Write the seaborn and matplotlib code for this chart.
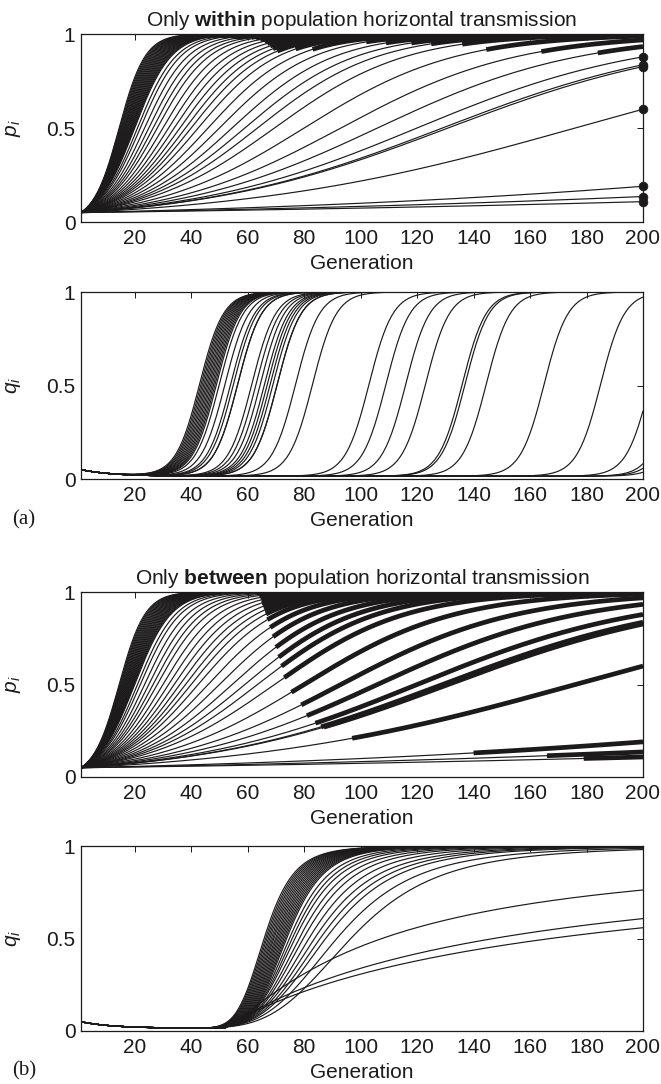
import numpy as np
import pandas as pd
import matplotlib
matplotlib.use("Agg")
import matplotlib.pyplot as plt
import seaborn as sns

nan = np.nan

GENERATIONS = np.arange(1, 200.01, 0.5)

# p_i runs: generation at which each trajectory passes 0.5 (same runs in (a) and (b))
P_HALF = [14.5, 14.75, 15, 15.25, 15.5, 15.75, 16, 16.25, 16.5, 16.75, 17, 17.25,
          17.5, 17.75, 18, 18.25, 18.5, 18.75, 19, 19.25, 19.5, 19.75, 20,
          21, 22, 23.5, 25, 26.5, 28, 30, 32, 34, 36, 38, 40, 42.5, 46, 50,
          54.5, 59, 63.5, 69.5, 80, 93, 106, 120, 129, 131, 176, 393, 538, 702]
# generation where the run is drawn bold; nan = never (dot at generation 200)
P_BOLD_A = [40, 40.5, 41, 41.5, 42, 42.5, 43, 43.5, 44, 44.5, 45, 45.5,
            46, 46.5, 47, 47.5, 48, 48.5, 49, 49.5, 50, 50.5, 51,
            52, 54, 55, 56.5, 61.5, 63, 64.5, 66, 67, 68, 69, 70.5, 77, 83, 102,
            109, 118, 125, 136, 144.5, 164, 184, nan, nan, nan, nan, nan, nan, nan]
P_BOLD_B = [64, 64, 64, 64, 64, 64, 64, 64, 64, 64, 64, 64,
            64, 64, 64, 64, 64, 64, 64, 64, 64, 64, 64,
            64, 64, 64, 64, 64, 64.5, 64.5, 65, 65, 65.5, 66, 66.5, 67, 68, 69,
            70, 71, 72, 73, 75.5, 79, 81, 84, 86, 87, 97, 140, 166, 179]

# q_i in (a): generation at which each run passes 0.5
QA_HALF = [43, 43.5, 44, 44.5, 45, 45.5, 46, 46.5, 47, 47.5, 48, 48.5, 49, 50,
           52, 54, 55, 56.5, 56.5, 61.5, 63, 64.5, 66, 67, 68, 69, 70.5, 70.5, 77, 83,
           103, 109, 116, 123, 136, 137, 144.5, 165, 185, 202.5, 211, 213, 216]

# q_i in (b): onset generation, generation at 0.5, steepness
QB_START = [35] * 17 + [35] * 11 + [52, 52, 52]
QB_HALF = [66, 66.5, 67, 67.5, 68, 68.5, 69, 69.5, 70, 70.5, 71, 71.5, 72, 72.5, 73, 73.5, 74,
           75, 76, 77, 78.5, 80, 82, 84, 86, 88, 92, 97,
           109, 150, 171]
QB_SHAPE = [6.0] * 17 + [5.7, 5.5, 5.3, 5.1, 4.9, 4.7, 4.5, 4.4, 4.3, 4.1, 4.0] + [1.2, 1.0, 0.95]

P_START = 0.05
QA_WIDTH = 4.2
INK = "#1c1a1b"
FS = 15


def p_traj(half):
    odds0 = 1 / P_START - 1
    rate = np.log(odds0) / (half - 1)
    return 1 / (1 + odds0 * np.exp(-rate * (GENERATIONS - 1)))


def q_floor():
    return 0.015 + 0.035 * np.exp(-(GENERATIONS - 1) / 11)


def qa_traj(half):
    rise = 1 / (1 + np.exp(-(GENERATIONS - half) / QA_WIDTH))
    base = q_floor()
    return base + (1 - base) * rise


def qb_traj(start, half, shape):
    u = GENERATIONS - start
    rise = np.where(u > 0, 1 / (1 + (np.clip(u, 1e-6, None) / (half - start)) ** -shape), 0.0)
    base = q_floor()
    return base + (1 - base) * rise


def to_frame(curves, starts=None):
    parts = []
    for k, y in enumerate(curves):
        if starts is None:
            keep = np.ones(len(GENERATIONS), dtype=bool)
        else:
            keep = GENERATIONS >= starts[k]
        parts.append(pd.DataFrame({"gen": GENERATIONS[keep], "value": y[keep], "run": k}))
    return pd.concat(parts, ignore_index=True)


def draw_lines(ax, frame, lw):
    sns.lineplot(data=frame, x="gen", y="value", units="run", estimator=None,
                 color=INK, linewidth=lw, solid_capstyle="butt", legend=False, ax=ax)


def style_axes(ax, ylabel, height_px):
    ax.set_xlim(1, 200)
    ax.set_ylim(0, 1)
    ax.set_xticks(range(20, 201, 20))
    ax.set_yticks([0, 0.5, 1])
    ax.set_yticklabels(["0", "0.5", "1"])
    ax.tick_params(direction="in", top=True, right=True, length=4, width=0.7,
                   labelsize=FS, color=INK, labelcolor=INK)
    ax.tick_params(axis="x", pad=5)
    ax.tick_params(axis="y", pad=4)
    for s in ax.spines.values():
        s.set_visible(True)
        s.set_linewidth(0.9)
        s.set_color(INK)
    ax.set_xlabel("Generation", fontsize=FS, color=INK)
    ax.set_ylabel(ylabel, fontsize=FS, color=INK)
    ax.xaxis.set_label_coords(0.5, -32 / height_px)
    ax.yaxis.set_label_coords(-0.103, 0.5)
    ax.grid(False)


sns.set_theme(style="white")
plt.rcParams["font.family"] = ["Liberation Sans", "DejaVu Sans"]
plt.rcParams["mathtext.fontset"] = "custom"
plt.rcParams["mathtext.rm"] = "Liberation Sans"
plt.rcParams["mathtext.it"] = "Liberation Sans:italic"
plt.rcParams["mathtext.bf"] = "Liberation Sans:bold"

W, H = 661, 1084
fig = plt.figure(figsize=(W / 100, H / 100), dpi=100)


def add_axes(top, bottom):
    return fig.add_axes([81 / W, 1 - bottom / H, 562 / W, (bottom - top) / H])


p_curves = [p_traj(h) for h in P_HALF]
p_all = to_frame(p_curves)

# (a) within population
ax = add_axes(34, 222)
draw_lines(ax, p_all, 0.85)
draw_lines(ax, to_frame(p_curves, P_BOLD_A), 3.4)
ends = pd.DataFrame({"gen": 200.0,
                     "value": [c[-1] for c, b in zip(p_curves, P_BOLD_A) if np.isnan(b)]})
sns.scatterplot(data=ends, x="gen", y="value", color=INK, s=40, edgecolor=INK,
                clip_on=False, zorder=5, legend=False, ax=ax)
style_axes(ax, "$p_i$", 188)
ax.set_title(r"Only $\mathbf{within}$ population horizontal transmission",
             fontsize=FS, color=INK, pad=6)

ax = add_axes(292, 479)
draw_lines(ax, to_frame([qa_traj(h) for h in QA_HALF]), 0.85)
style_axes(ax, "$q_i$", 187)

# (b) between populations
ax = add_axes(592, 777)
draw_lines(ax, p_all, 0.85)
draw_lines(ax, to_frame(p_curves, P_BOLD_B), 3.4)
style_axes(ax, "$p_i$", 185)
ax.set_title(r"Only $\mathbf{between}$ population horizontal transmission",
             fontsize=FS, color=INK, pad=6)

ax = add_axes(846, 1031)
draw_lines(ax, to_frame([qb_traj(s, h, n) for s, h, n in zip(QB_START, QB_HALF, QB_SHAPE)]), 0.85)
style_axes(ax, "$q_i$", 185)

for tag, y in [("(a)", 520), ("(b)", 1071)]:
    fig.text(12 / W, 1 - y / H, tag, fontsize=FS, family="Liberation Serif",
             color=INK, va="center", ha="left")

fig.savefig("out.png", dpi=100)
